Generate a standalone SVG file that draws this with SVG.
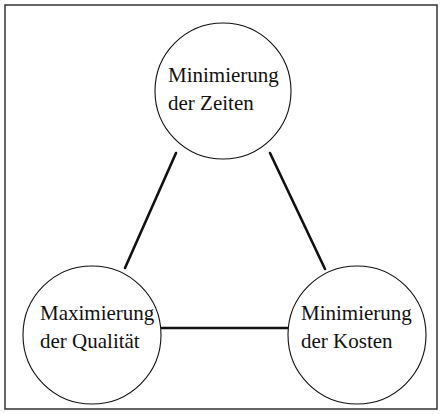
<svg xmlns="http://www.w3.org/2000/svg" width="442" height="415" viewBox="0 0 442 415">
  <style>
    .frame { fill: none; stroke: #333; stroke-width: 1.5; }
    .node circle { fill: #fff; stroke: #111; stroke-width: 1.1; }
    .node text { font-family: "Liberation Serif", "Times New Roman", serif; font-size: 21px; fill: #111; }
    .edge { stroke: #111; stroke-width: 2.6; stroke-linecap: round; }
  </style>
  <rect width="442" height="415" fill="#fff"/>
  <rect class="frame" x="5" y="5" width="432" height="404"/>

  <g id="connectors">
    <line class="edge" x1="176" y1="153" x2="125" y2="268"/>
    <line class="edge" x1="270" y1="153" x2="325" y2="269"/>
    <line class="edge" x1="162" y1="328" x2="288" y2="328"/>
  </g>

  <g id="zeiten" class="node">
    <circle cx="223" cy="91" r="68"/>
    <text x="168" y="82">Minimierung</text>
    <text x="168" y="110">der Zeiten</text>
  </g>

  <g id="qualitaet" class="node">
    <circle cx="92" cy="335" r="69"/>
    <text x="40" y="320">Maximierung</text>
    <text x="40" y="348">der Qualität</text>
  </g>

  <g id="kosten" class="node">
    <circle cx="357" cy="335" r="69"/>
    <text x="301" y="320">Minimierung</text>
    <text x="301" y="348">der Kosten</text>
  </g>
</svg>
